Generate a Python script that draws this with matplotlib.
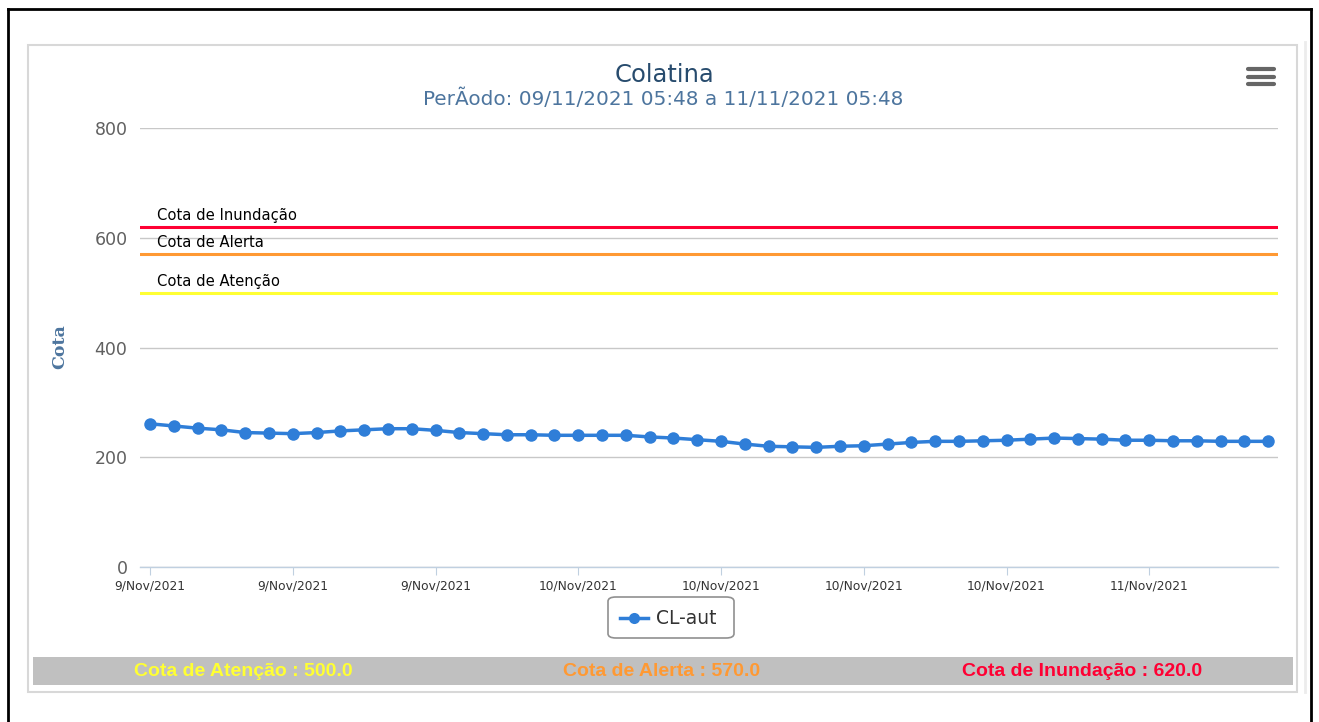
import matplotlib
matplotlib.use("Agg")
import matplotlib.pyplot as plt
from matplotlib.patches import Rectangle, FancyBboxPatch
from matplotlib.lines import Line2D

# ---------------- data ----------------
title = "Colatina"
subtitle = "PerÃodo: 09/11/2021 05:48 a 11/11/2021 05:48"
series_name = "CL-aut"
cota_values = [261, 257, 253, 250, 245, 244, 243, 245, 248, 250, 252, 252,
               249, 245, 243, 241, 241, 240, 240, 240, 240, 237, 235, 232,
               229, 224, 220, 219, 218, 220, 221, 224, 227, 229, 229, 230,
               231, 233, 235, 234, 233, 231, 231, 230, 230, 229, 229, 229]
tick_positions = [0, 6, 12, 18, 24, 30, 36, 42]
tick_labels = ["9/Nov/2021", "9/Nov/2021", "9/Nov/2021", "10/Nov/2021",
               "10/Nov/2021", "10/Nov/2021", "10/Nov/2021", "11/Nov/2021"]
y_ticks = [0, 200, 400, 600, 800]
threshold_names = ["Cota de Atenção", "Cota de Alerta", "Cota de Inundação"]
threshold_values = [500.0, 570.0, 620.0]
threshold_colors = ["#ffff33", "#ff9933", "#ff0033"]
band_text_colors = ["#ffff33", "#ff9933", "#ff0033"]

W, H = 1319, 722
fig = plt.figure(figsize=(W / 100, H / 100), dpi=100)
fig.patch.set_facecolor("white")


def fx(x):
    return x / W


def fy(y):
    return 1 - y / H


# outer black frame (left, top, right)
fig.add_artist(Line2D([fx(8), fx(8)], [fy(9), 0], color="black", lw=2))
fig.add_artist(Line2D([fx(8), fx(1311)], [fy(9), fy(9)], color="black", lw=2))
fig.add_artist(Line2D([fx(1311), fx(1311)], [fy(9), fy(722)], color="black", lw=2))

# card border
fig.add_artist(Rectangle((fx(28), fy(692)), fx(1297) - fx(28), fy(45) - fy(692),
                         facecolor="none", edgecolor="#d8d8d8", lw=1.5))
fig.add_artist(Line2D([fx(1305), fx(1305)], [fy(42), fy(692)], color="#ececec", lw=2))

# axes
left, right, top, bottom = 140, 1278, 128, 567
ax = fig.add_axes([fx(left), fy(bottom), fx(right) - fx(left), fy(top) - fy(bottom)])
n = len(cota_values)
xs = list(range(n))
ax.set_xlim(-0.42, 47.41)
ax.set_ylim(0, 800)
ax.set_yticks(y_ticks)
ax.set_yticklabels([str(v) for v in y_ticks], color="#606060", fontsize=12.5)
ax.set_xticks(tick_positions)
ax.set_xticklabels(tick_labels, color="#333333", fontsize=8.8)
ax.grid(axis="y", color="#c8c8c8", lw=1)
ax.set_axisbelow(True)
for s in ["top", "right", "left"]:
    ax.spines[s].set_visible(False)
ax.spines["bottom"].set_color("#c0d0e0")
ax.spines["bottom"].set_linewidth(1)
ax.tick_params(axis="y", length=0, pad=9)
ax.tick_params(axis="x", length=6, color="#c0d0e0", pad=3)

# threshold lines
for name, val, col in zip(threshold_names, threshold_values, threshold_colors):
    ax.axhline(val, color=col, lw=2.2, zorder=2)
    ax.annotate(name, xy=(0, val), xycoords=("axes fraction", "data"),
                xytext=(17, 4), textcoords="offset pixels",
                fontsize=10.6, color="black", va="bottom", ha="left")

ax.plot(xs, cota_values, color="#2f7ed8", lw=2.5, marker="o", markersize=9,
        markeredgewidth=0, zorder=3, label=series_name, clip_on=False)

ax.set_ylabel("Cota", color="#4d759e", fontsize=12.5, fontweight="bold",
              family="DejaVu Serif")
axw = fx(right) - fx(left)
axh = fy(top) - fy(bottom)
ax.yaxis.set_label_coords((fx(68) - fx(left)) / axw, (fy(347) - fy(bottom)) / axh)

# title
fig.text(fx(664), fy(75), title, ha="center", va="center", fontsize=17.5, color="#274b6d")
fig.text(fx(663), fy(99), subtitle, ha="center", va="center", fontsize=14.4, color="#4d759e")

# hamburger menu
for yy in [69, 77, 84]:
    fig.add_artist(Line2D([fx(1248), fx(1274)], [fy(yy), fy(yy)], color="#666666",
                          lw=3, solid_capstyle="round"))

# legend box
fig.add_artist(FancyBboxPatch((fx(608), fy(638)), fx(734) - fx(608), fy(597) - fy(638),
                              boxstyle="round,pad=0,rounding_size=0.006",
                              facecolor="white", edgecolor="#909090", lw=1.2))
fig.add_artist(Line2D([fx(620), fx(648)], [fy(618), fy(618)], color="#2f7ed8", lw=2.5))
fig.add_artist(Line2D([fx(634)], [fy(618)], color="#2f7ed8", marker="o", markersize=8,
                      markeredgewidth=0))
fig.text(fx(656), fy(618), series_name, ha="left", va="center", fontsize=13.5, color="#333333")

# bottom gray band
fig.add_artist(Rectangle((fx(33), fy(685)), fx(1293) - fx(33), fy(657) - fy(685),
                         facecolor="#c0c0c0", edgecolor="none"))
band_x = [243, 662, 1082]
for cx, name, val, col in zip(band_x, threshold_names, threshold_values, band_text_colors):
    fig.text(fx(cx), fy(671), f"{name} : {val:.1f}", ha="center", va="center",
             fontsize=14, fontweight="bold", color=col, family="Liberation Sans")

fig.savefig("out.png", dpi=100)
